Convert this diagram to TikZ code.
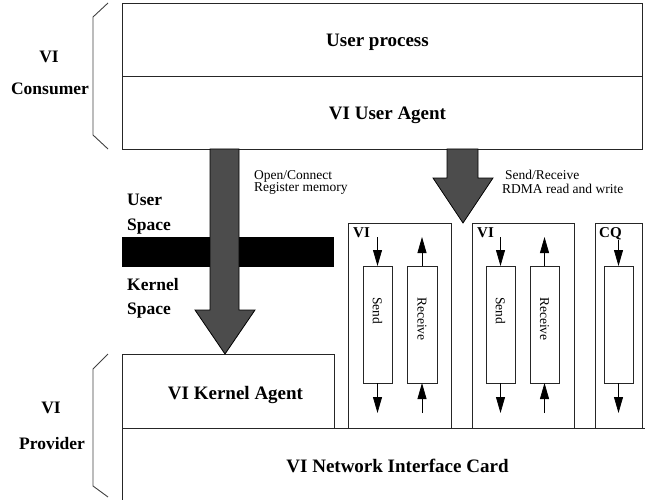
\documentclass[tikz,border=0pt]{standalone}
\usepackage{fontspec}
\setmainfont{Liberation Serif}
\usetikzlibrary{arrows.meta,calc}
\begin{document}
\begin{tikzpicture}[x=1pt,y=-1pt,
  box/.style={draw=black!85,line width=0.9pt,inner sep=0pt,outer sep=0pt,anchor=north west},
  big/.style={font=\fontsize{19}{21}\selectfont\bfseries,inner sep=0pt},
  side/.style={font=\fontsize{17.5}{20}\selectfont\bfseries,inner sep=0pt},
  small/.style={font=\fontsize{13.5}{15}\selectfont,inner sep=0pt},
  qlab/.style={font=\fontsize{15}{17}\selectfont\bfseries,inner sep=0pt,anchor=base west},
  tip/.style={line width=0.8pt,-{Triangle[length=16pt,width=9pt]}},
  fat/.style={draw=black,line width=0.8pt,fill=black!70},
  brace/.style={draw=black!75,line width=0.9pt}
]
\useasboundingbox (0,0) rectangle (645,500);

% top boxes
\node[box,minimum width=520pt,minimum height=73pt] (up) at (122,3) {};
\node[box,minimum width=520pt,minimum height=73pt] (ua) at (122,76) {};
\node[big,anchor=base] (tup) at (377.5,47) {User process};
\node[big,anchor=base] (tua) at (387.5,120) {VI User Agent};

% user/kernel bar
\node[fill=black,inner sep=0pt,outer sep=0pt,anchor=north west,minimum width=212pt,minimum height=30pt] (bar) at (122,237) {};

% kernel agent
\node[box,minimum width=212pt,minimum height=74pt] (ka) at (122,354) {};
\node[big,anchor=base] (tka) at (235.5,399) {VI Kernel Agent};

% fat arrows
\draw[fat] (210,149) -- (210,310) -- (195,310) -- (ka.north -| 225,0) -- (255,310) -- (239,310) -- (239,149) -- cycle;
\draw[fat] (447,149) -- (447,178) -- (433,178) -- (463,223) -- (493,178) -- (478,178) -- (478,149) -- cycle;

% NIC
\node[inner sep=0pt,outer sep=0pt,anchor=north west,minimum width=523pt,minimum height=72pt] (nic) at (122,428) {};
\draw[draw=black!85,line width=0.9pt] (nic.south west) -- (nic.north west) -- (nic.north east);
\node[big,anchor=base] (tnic) at (397.5,472) {VI Network Interface Card};

% VI and CQ boxes
\node[box,minimum width=103pt,minimum height=205pt] (vi1) at (348,223) {};
\node[box,minimum width=102pt,minimum height=205pt] (vi2) at (472,223) {};
\node[box,minimum width=47pt,minimum height=205pt] (cq) at (595,223) {};
\node[qlab] (lvi1) at (353,237) {VI};
\node[qlab] (lvi2) at (477,237) {VI};
\node[qlab] (lcq) at (599,237) {CQ};

% queues
\node[box,minimum width=29pt,minimum height=117pt] (s1) at (363,266) {};
\node[box,minimum width=30pt,minimum height=117pt] (r1) at (407,266) {};
\node[box,minimum width=29pt,minimum height=117pt] (s2) at (486,266) {};
\node[box,minimum width=29pt,minimum height=117pt] (r2) at (530,266) {};
\node[box,minimum width=29pt,minimum height=117pt] (cqb) at (604,266) {};

\foreach \q/\t in {s1/Send,r1/Receive,s2/Send,r2/Receive}{
  \node[small,rotate=-90,anchor=west] (t\q) at ($(\q.north)+(0,31)$) {\t};
}

% small arrows
\foreach \q in {s1,r1,s2,r2,cqb}{
  \coordinate (\q t) at ($(\q.north)+(0,-29)$);
  \coordinate (\q b) at ($(\q.south)+(0,30)$);
}
\coordinate (cqbt) at ($(cqb.north)+(0,-26)$);
\draw[tip] (s1t) -- (s1.north);
\draw[tip] (s1.south) -- (s1b);
\draw[tip] (r1.north) -- (r1t);
\draw[tip] (r1b) -- (r1.south);
\draw[tip] (s2t) -- (s2.north);
\draw[tip] (s2.south) -- (s2b);
\draw[tip] (r2.north) -- (r2t);
\draw[tip] (r2b) -- (r2.south);
\draw[tip] (cqbt) -- (cqb.north);
\draw[tip] (cqb.south) -- (cqbb);

% braces
\draw[brace] (108,3) -- (93,17) -- (93,135) -- (108,149);
\draw[brace] (108,354) -- (93,369) -- (93,486) -- (108,497);

% side labels
\node[side,anchor=base] (c1) at (49,63) {VI};
\node[side,anchor=base] (c2) at (50,95) {Consumer};
\node[side,anchor=base] (p1) at (51,413) {VI};
\node[side,anchor=base] (p2) at (52,449) {Provider};
\node[side,anchor=base west] (us1) at (127,205) {User};
\node[side,anchor=base west] (us2) at (127,230) {Space};
\node[side,anchor=base west] (ks1) at (127,290) {Kernel};
\node[side,anchor=base west] (ks2) at (127,314) {Space};

% annotations
\node[small,anchor=base west] (a1) at (254,179) {Open/Connect};
\node[small,anchor=base west] (a2) at (254,191) {Register memory};
\node[small,anchor=base west] (a3) at (505,179) {Send/Receive};
\node[small,anchor=base west] (a4) at (502,193) {RDMA read and write};
\end{tikzpicture}
\end{document}
